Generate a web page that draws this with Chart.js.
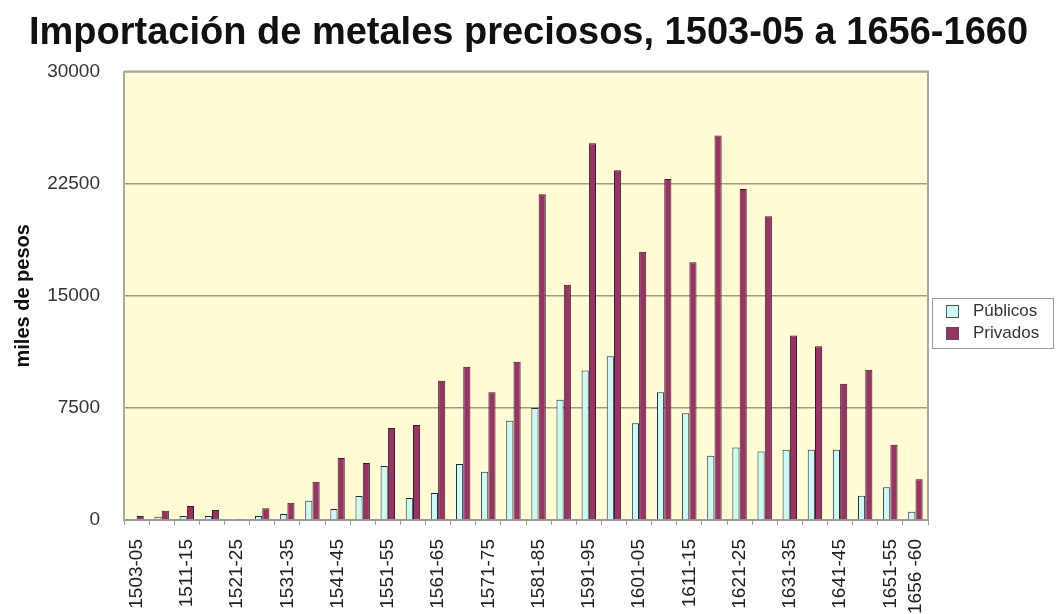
<!DOCTYPE html>
<html lang="es">
<head>
<meta charset="utf-8">
<title>Importación de metales preciosos</title>
<script src="https://cdn.jsdelivr.net/npm/chart.js@4.4.1/dist/chart.umd.min.js"></script>
<style>
  html, body { margin: 0; padding: 0; background: #fff; }
  #wrap { width: 1057px; height: 614px; position: relative; }
</style>
</head>
<body>
<div id="wrap"><canvas id="grafico" width="1057" height="614"></canvas></div>
<script>
// Periodos (quinquenios)
const periodos = [
  '1503-05', '1506-10', '1511-15', '1516-20', '1521-25', '1526-30', '1531-35', '1536-40',
  '1541-45', '1546-50', '1551-55', '1556-60', '1561-65', '1566-70', '1571-75', '1576-80',
  '1581-85', '1586-90', '1591-95', '1596-1600', '1601-05', '1606-10', '1611-15', '1616-20',
  '1621-25', '1626-30', '1631-35', '1636-40', '1641-45', '1646-50', '1651-55', '1656-60'
];

// Etiquetas visibles del eje X (una de cada dos, más la última)
const etiquetasEje = [
  '1503-05', '', '1511-15', '', '1521-25', '', '1531-35', '',
  '1541-45', '', '1551-55', '', '1561-65', '', '1571-75', '',
  '1581-85', '', '1591-95', '', '1601-05', '', '1611-15', '',
  '1621-25', '', '1631-35', '', '1641-45', '', '1651-55', '1656 -60'
];

// miles de pesos
const publicos = [
  70, 220, 270, 270, 30, 270, 400, 1290,
  730, 1600, 3620, 1470, 1810, 3750, 3220, 6640,
  7500, 8040, 10000, 10950, 6470, 8550, 7150, 4300,
  4850, 4580, 4700, 4700, 4700, 1630, 2190, 560
];
const privados = [
  270, 620, 940, 670, 40, 780, 1160, 2560,
  4150, 3820, 6160, 6360, 9310, 10250, 8550, 10580,
  21800, 15740, 25200, 23400, 17950, 22820, 17250, 25730,
  22150, 20330, 12350, 11620, 9110, 10050, 5030, 2720
];

const yTicks = [0, 7500, 15000, 22500, 30000];

const FONT = '"Liberation Sans", Arial, Helvetica, sans-serif';

// Fondo amarillo del área de trazado + marco
const fondoPlot = {
  id: 'fondoPlot',
  beforeDraw(chart) {
    const { ctx, chartArea: a } = chart;
    ctx.save();
    ctx.fillStyle = '#fffbd4';
    ctx.fillRect(a.left, a.top, a.right - a.left, a.bottom - a.top);
    ctx.restore();
  },
  afterDraw(chart) {
    const { ctx, chartArea: a } = chart;
    ctx.save();
    ctx.strokeStyle = '#a8a8a0';
    ctx.lineWidth = 2;
    ctx.beginPath();
    ctx.moveTo(a.left, a.top);
    ctx.lineTo(a.right, a.top);
    ctx.lineTo(a.right, a.bottom);
    ctx.stroke();
    ctx.restore();
  }
};

// Leyenda con recuadro, a la derecha
const leyendaCaja = {
  id: 'leyendaCaja',
  afterDraw(chart) {
    const { ctx } = chart;
    const x = 932, y = 298, w = 121, h = 50;
    ctx.save();
    ctx.strokeStyle = '#9a9a9a';
    ctx.lineWidth = 1;
    ctx.strokeRect(x + 0.5, y + 0.5, w, h);
    ctx.font = '17px ' + FONT;
    ctx.textBaseline = 'middle';
    chart.data.datasets.forEach((ds, i) => {
      const cy = y + 13 + i * 22;
      ctx.fillStyle = ds.backgroundColor;
      ctx.fillRect(x + 14, cy - 6, 13, 13);
      ctx.strokeStyle = '#555';
      ctx.strokeRect(x + 14.5, cy - 5.5, 12, 12);
      ctx.fillStyle = '#333';
      ctx.fillText(ds.label, x + 41, cy);
    });
    ctx.restore();
  }
};

new Chart(document.getElementById('grafico'), {
  type: 'bar',
  data: {
    labels: periodos,
    datasets: [
      { label: 'Públicos', data: publicos, backgroundColor: '#ccfaf5', borderColor: '#1e2a40', borderWidth: 1,
        categoryPercentage: 0.58, barPercentage: 0.98 },
      { label: 'Privados', data: privados, backgroundColor: '#993366', borderColor: '#3a1a28', borderWidth: 1,
        categoryPercentage: 0.58, barPercentage: 0.98 }
    ]
  },
  options: {
    responsive: false,
    devicePixelRatio: 1,
    animation: false,
    plugins: {
      legend: { display: false },
      tooltip: { enabled: false },
      title: {
        display: true,
        text: 'Importación de metales preciosos, 1503-05 a 1656-1660',
        color: '#111',
        font: { family: FONT, size: 38, weight: 'bold' },
        padding: { top: 11, bottom: 15 }
      }
    },
    scales: {
      x: {
        afterFit: s => { s.height = 94; },
        grid: { offset: true, drawOnChartArea: false, tickLength: 5, color: '#9a9a9a' },
        border: { color: '#9a9a9a', width: 2 },
        ticks: {
          autoSkip: false, maxRotation: 90, minRotation: 90, padding: 14,
          color: '#222', font: { family: FONT, size: 19 },
          callback: (v, i) => etiquetasEje[i]
        }
      },
      y: {
        min: 0, max: 30000,
        afterFit: s => { s.width = 124; },
        afterBuildTicks: s => { s.ticks = yTicks.map(v => ({ value: v })); },
        grid: { color: '#a19d7c', lineWidth: 1.5, drawTicks: false },
        border: { color: '#a8a8a0', width: 2 },
        ticks: { padding: 24, color: '#333', font: { family: FONT, size: 19 }, callback: v => String(v) },
        title: {
          display: true, text: 'miles de pesos', color: '#111',
          font: { family: FONT, size: 20, weight: 'bold' },
          padding: { top: 11, bottom: 0 }
        }
      },
      // eje vacío a la derecha: reserva el hueco de la leyenda
      hueco: {
        type: 'linear', position: 'right', display: true,
        afterFit: s => { s.width = 129; },
        grid: { display: false, drawTicks: false },
        border: { display: false },
        ticks: { display: false }
      }
    }
  },
  plugins: [fondoPlot, leyendaCaja]
});
</script>
</body>
</html>
